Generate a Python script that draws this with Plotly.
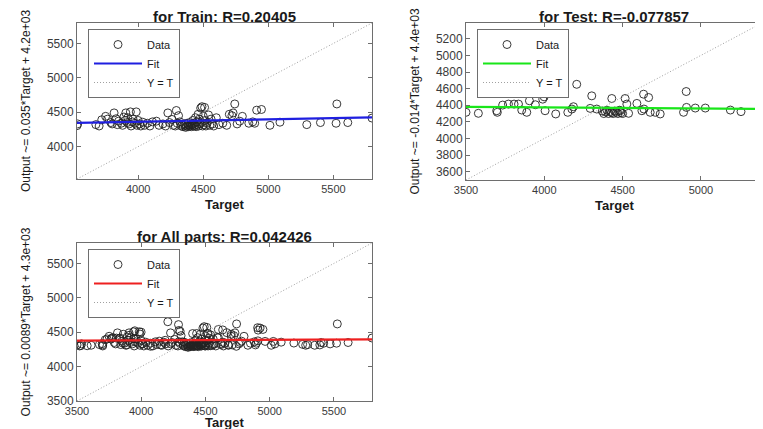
import numpy as np
import plotly.graph_objects as go

# ---- data (Target vs Output) ----
train_target = [3530, 3535, 3675, 3700, 3720, 3750, 3765, 3790, 3800, 3815, 3830, 3840, 3850,
                3870, 3880, 3890, 3900, 3905, 3915, 3920, 3930, 3940, 3945, 3955, 3960, 3975,
                3985, 3990, 4000, 4010, 4020, 4035, 4050, 4070, 4090, 4110, 4140, 4160, 4190,
                4210, 4228, 4240, 4260, 4270, 4285, 4293, 4300, 4310, 4320, 4330, 4340, 4345,
                4355, 4360, 4365, 4370, 4375, 4380, 4385, 4390, 4395, 4400, 4405, 4410, 4415,
                4420, 4425, 4430, 4435, 4440, 4445, 4450, 4455, 4460, 4465, 4470, 4475, 4480,
                4485, 4490, 4495, 4500, 4505, 4510, 4515, 4520, 4530, 4540, 4550, 4560, 4570,
                4580, 4600, 4620, 4650, 4680, 4700, 4720, 4729, 4742, 4760, 4780, 4800, 4850,
                4880, 4895, 4910, 4947, 5012, 5089, 5295, 5400, 5520, 5526, 5610, 5796]
train_output = [4305, 4330, 4320, 4300, 4390, 4440, 4400, 4350, 4330, 4490, 4405, 4320, 4370,
                4340, 4310, 4430, 4380, 4490, 4350, 4420, 4330, 4505, 4300, 4360, 4400, 4340,
                4505, 4310, 4380, 4330, 4300, 4355, 4310, 4340, 4300, 4360, 4370, 4310, 4330,
                4300, 4490, 4350, 4395, 4310, 4300, 4525, 4340, 4450, 4360, 4300, 4320, 4290,
                4330, 4310, 4280, 4300, 4340, 4320, 4290, 4310, 4350, 4300, 4330, 4290, 4320,
                4380, 4300, 4340, 4310, 4420, 4290, 4360, 4320, 4470, 4300, 4400, 4330, 4560,
                4350, 4580, 4300, 4440, 4320, 4570, 4380, 4300, 4340, 4460, 4310, 4400, 4330,
                4300, 4420, 4320, 4340, 4310, 4470, 4450, 4490, 4620, 4330, 4370, 4440, 4340,
                4360, 4340, 4530, 4540, 4310, 4355, 4320, 4350, 4340, 4620, 4350, 4415]

test_target = [3500, 3579, 3696, 3700, 3734, 3771, 3807, 3835, 3856, 3888, 3905, 3943, 3990,
               3999, 4005, 4073, 4150, 4176, 4186, 4207, 4293, 4303, 4335, 4370, 4380, 4390,
               4400, 4410, 4420, 4430, 4431, 4440, 4450, 4460, 4470, 4480, 4485, 4490, 4500,
               4516, 4527, 4538, 4591, 4623, 4634, 4636, 4666, 4676, 4708, 4740, 4889, 4906,
               4908, 4964, 5028, 5188, 5256, 5390]
test_output = [4315, 4303, 4334, 4315, 4402, 4414, 4414, 4414, 4342, 4315, 4454, 4406, 4473,
               4501, 4334, 4295, 4315, 4354, 4382, 4652, 4362, 4513, 4354, 4330, 4300, 4320,
               4340, 4300, 4325, 4310, 4481, 4300, 4330, 4315, 4300, 4340, 4334, 4310, 4300,
               4481, 4414, 4303, 4422, 4334, 4533, 4354, 4493, 4315, 4315, 4295, 4315, 4565,
               4374, 4366, 4366, 4342, 4323, 4315]

val_target = [3520, 3610, 3780, 3860, 3950, 4000, 4120, 4230, 4290, 4330, 4360, 4400, 4440,
              4470, 4520, 4560, 4600, 4640, 4700, 4770, 4830, 4925, 5040, 5280, 5350, 5420,
              5470]
val_output = [4300, 4310, 4420, 4470, 4520, 5060, 4320, 4330, 4610, 4310, 4290, 4480, 4300,
              4330, 4480, 4320, 4540, 4300, 4440, 4350, 4310, 4560, 4330, 4310, 4310, 4340,
              4330]

all_target = train_target + val_target + test_target
all_output = train_output + val_output + test_output

# regression coefficients as printed on the y labels (slope, intercept)
train_fit = (0.035, 4222)
test_fit = (-0.014, 4430)
all_fit = (0.0089, 4345)

train_r = "0.20405"
test_r = "-0.077857"
all_r = "0.042426"

FONT = "Liberation Sans, Arial, sans-serif"
TICK_GREY = "#3a3a3a"

# the page body has an 8px margin, so the figure sits 8px in from the window corner
OFF = 8
W, H = 763 - OFF, 429 - OFF

panels = [
    dict(name="Train", t=train_target, o=train_output, fit=train_fit, r=train_r,
         color="#1f1fe0", ylab="Output ~= 0.035*Target + 4.2e+03",
         dx=[77, 372], dy=[23, 179], ytick=500, xlab_shift=-16),
    dict(name="Test", t=test_target, o=test_output, fit=test_fit, r=test_r,
         color="#19e619", ylab="Output ~= -0.014*Target + 4.4e+03",
         dx=[466, 762], dy=[23, 180], ytick=200, xlab_shift=-16),
    dict(name="All parts", t=all_target, o=all_output, fit=all_fit, r=all_r,
         color="#ee2020", ylab="Output ~= 0.0089*Target + 4.3e+03",
         dx=[77, 372], dy=[243, 401], ytick=500, xlab_shift=-12),
]

fig = go.Figure()
annotations = []

for i, p in enumerate(panels, start=1):
    sfx = "" if i == 1 else str(i)
    t = np.array(p["t"], dtype=float)
    o = np.array(p["o"], dtype=float)
    lo = min(t.min(), o.min())
    hi = max(t.max(), o.max())
    lim = np.array([lo, hi])
    legend_id = "legend" if i == 1 else f"legend{i}"

    fig.add_trace(go.Scatter(
        x=t, y=o, mode="markers", name="Data",
        marker=dict(symbol="circle-open", size=8, color="#222222", line=dict(width=0.9)),
        xaxis="x" + sfx, yaxis="y" + sfx, legend=legend_id,
    ))
    fig.add_trace(go.Scatter(
        x=lim, y=p["fit"][0] * lim + p["fit"][1], mode="lines", name="Fit",
        line=dict(color=p["color"], width=2.2),
        xaxis="x" + sfx, yaxis="y" + sfx, legend=legend_id,
    ))
    fig.add_trace(go.Scatter(
        x=lim, y=lim, mode="lines", name="Y = T",
        line=dict(color="#a0a0a0", width=1, dash="1px,2px"),
        xaxis="x" + sfx, yaxis="y" + sfx, legend=legend_id,
    ))

    x0, x1 = p["dx"][0] - OFF, p["dx"][1] - OFF
    y0, y1 = p["dy"][0] - OFF, p["dy"][1] - OFF
    xdom = [x0 / W, min(x1 / W, 1.0)]
    ydom = [1 - y1 / H, 1 - y0 / H]

    axis_common = dict(
        range=[lo, hi], showgrid=False, zeroline=False, showline=True,
        linecolor="#6e6e6e", linewidth=1, mirror="ticks", ticks="inside",
        ticklen=4, tickcolor="#6e6e6e",
    )
    fig.update_layout({
        "xaxis" + sfx: dict(
            axis_common, domain=xdom, anchor="y" + sfx, dtick=500,
            tickfont=dict(family=FONT, size=11, color=TICK_GREY),
        ),
        "yaxis" + sfx: dict(
            axis_common, domain=ydom, anchor="x" + sfx, dtick=p["ytick"],
            tickfont=dict(family=FONT, size=12, color=TICK_GREY),
            title=dict(text=p["ylab"], standoff=13,
                       font=dict(family=FONT, size=12, color="#1a1a1a")),
        ),
        legend_id: dict(
            x=(x0 + 11) / W, y=1 - (y0 + 6) / H,
            xanchor="left", yanchor="top", bgcolor="white",
            bordercolor="#6e6e6e", borderwidth=1,
            font=dict(family=FONT, size=11, color="#1a1a1a"),
            tracegroupgap=0, itemwidth=48,
        ),
    })

    # panel title above the box
    annotations.append(dict(
        text=f"<b>for {p['name']}: R={p['r']}</b>",
        x=(xdom[0] + xdom[1]) / 2, y=ydom[1], xref="paper", yref="paper",
        xanchor="center", yanchor="bottom", showarrow=False, yshift=-4,
        font=dict(family=FONT, size=15, color="#1a1a1a"),
    ))
    # x-axis label, placed close under the tick labels
    annotations.append(dict(
        text="<b>Target</b>",
        x=(xdom[0] + xdom[1]) / 2, y=ydom[0], xref="paper", yref="paper",
        xanchor="center", yanchor="top", showarrow=False, yshift=p["xlab_shift"],
        font=dict(family=FONT, size=13, color="#1a1a1a"),
    ))

fig.update_layout(
    width=W, height=H,
    margin=dict(l=0, r=0, t=0, b=0, autoexpand=False),
    paper_bgcolor="white", plot_bgcolor="white",
    annotations=annotations,
    showlegend=True,
)

fig.write_html("out.html")
